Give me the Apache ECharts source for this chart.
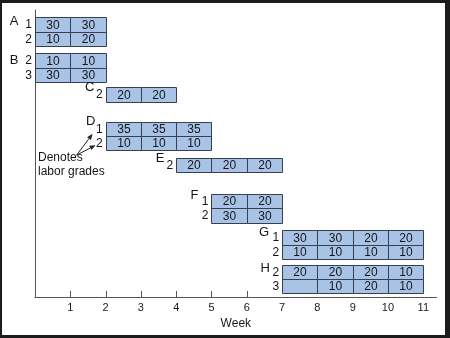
<!DOCTYPE html>
<html>
<head>
<meta charset="utf-8">
<script src="https://cdn.jsdelivr.net/npm/echarts@6/dist/echarts.min.js"></script>
<style>
  html, body { margin: 0; padding: 0; width: 450px; height: 338px; overflow: hidden; background: #1c1c1c; }
  #chart { position: absolute; left: 2px; top: 3px; width: 443px; height: 332px; background: #ffffff; }
</style>
</head>
<body>
<div id="chart"></div>
<script>
// ---- data ----
const weekTicks = [1, 2, 3, 4, 5, 6, 7, 8, 9, 10, 11];
const tasks = ['A', 'B', 'C', 'D', 'E', 'F', 'G', 'H'];
const taskStartWeek = [0, 0, 2, 2, 4, 5, 7, 7];
const laborGrades = [[1, 2], [2, 3], [2], [1, 2], [2], [1, 2], [1, 2], [2, 3]];
const workersA = [[30, 30], [10, 20]];
const workersB = [[10, 10], [30, 30]];
const workersC = [[20, 20]];
const workersD = [[35, 35, 35], [10, 10, 10]];
const workersE = [[20, 20, 20]];
const workersF = [[20, 20], [30, 30]];
const workersG = [[30, 30, 20, 20], [10, 10, 10, 10]];
const workersH = [[20, 20, 20, 10], [null, 10, 20, 10]];
const workersByTask = [workersA, workersB, workersC, workersD, workersE, workersF, workersG, workersH];
const markedWeekTicks = [1, 2, 3, 4, 5, 6];
const noteLines = ['Denotes', 'labor grades'];

// ---- layout (vertical units are row heights) ----
const gapAbove = [0.51, 0.51, 0.35, 1.39, 0.535, 1.5, 0.535, 0.37];
const gapBelow = 0.26;
// task letter position in px relative to the task's start on its first row
const letterOffset = [[-21, -3], [-21, 0], [-16, -7], [-15, -7], [-16, -7], [-17, -6], [-18, -5], [-17, -3]];
const FONT = '"Liberation Sans", Arial, Helvetica, sans-serif';

// row positions
const rowTops = [];
let cursor = 0;
tasks.forEach((t, i) => {
  cursor += gapAbove[i];
  const tops = [];
  laborGrades[i].forEach(() => { tops.push(cursor); cursor += 1; });
  rowTops.push(tops);
});
const yMax = cursor + gapBelow;

// cells: [startWeek, endWeek, rowTop, rowBottom]
const cellData = [];
const cellText = [];
tasks.forEach((t, i) => {
  workersByTask[i].forEach((row, r) => {
    row.forEach((v, k) => {
      const s = taskStartWeek[i] + k;
      cellData.push([s, s + 1, rowTops[i][r], rowTops[i][r] + 1]);
      cellText.push(v == null ? '' : String(v));
    });
  });
});

// grade labels: [startWeek, rowCenter]
const gradeData = [];
const gradeText = [];
tasks.forEach((t, i) => {
  laborGrades[i].forEach((g, r) => {
    gradeData.push([taskStartWeek[i], rowTops[i][r] + 0.5]);
    gradeText.push(String(g));
  });
});

// task letters: anchored on the first row
const letterData = tasks.map((t, i) => [taskStartWeek[i], rowTops[i][0] + 0.5]);

const crisp = v => Math.round(v) + 0.5;

const chart = echarts.init(document.getElementById('chart'), null, { renderer: 'canvas' });
const dIdx = tasks.indexOf('D');

chart.setOption({
  animation: false,
  grid: { left: 33, right: 8.3, top: 7, bottom: 38, containLabel: false, outerBoundsMode: 'none' },
  xAxis: {
    type: 'value', min: 0, max: 11.38, interval: 1,
    name: 'Week', nameLocation: 'middle', nameGap: 20,
    nameTextStyle: { fontFamily: FONT, fontSize: 12, color: '#1a1a1a' },
    axisLine: { show: true, onZero: false, lineStyle: { color: '#555', width: 1 } },
    axisTick: { show: false },
    splitLine: { show: false },
    axisLabel: {
      margin: 5, fontFamily: FONT, fontSize: 11, color: '#1a1a1a',
      formatter: v => (weekTicks.indexOf(v) >= 0 ? String(v) : '')
    }
  },
  yAxis: {
    type: 'value', min: 0, max: yMax, inverse: true,
    axisLine: { show: true, onZero: false, lineStyle: { color: '#555', width: 1 } },
    axisTick: { show: false }, axisLabel: { show: false }, splitLine: { show: false }
  },
  series: [
    {
      type: 'custom', name: 'cells', data: cellData,
      encode: { x: [0, 1], y: [2, 3] }, clip: false,
      renderItem(params, api) {
        const p0 = api.coord([api.value(0), api.value(2)]);
        const p1 = api.coord([api.value(1), api.value(3)]);
        const x0 = crisp(p0[0]), y0 = crisp(p0[1]);
        const x1 = crisp(p1[0]), y1 = crisp(p1[1]);
        return {
          type: 'group', children: [
            { type: 'rect', shape: { x: x0, y: y0, width: x1 - x0, height: y1 - y0 },
              style: { fill: '#a9c3e6', stroke: '#36404e', lineWidth: 1 } },
            { type: 'text', style: { text: cellText[params.dataIndex], x: (x0 + x1) / 2, y: (y0 + y1) / 2 + 0.5,
              align: 'center', verticalAlign: 'middle', font: '12px ' + FONT, fill: '#151515' } }
          ]
        };
      }
    },
    {
      type: 'custom', name: 'grades', data: gradeData,
      encode: { x: 0, y: 1 }, clip: false,
      renderItem(params, api) {
        const p = api.coord([api.value(0), api.value(1)]);
        return { type: 'text', style: { text: gradeText[params.dataIndex], x: p[0] - 3, y: p[1] + 0.5,
          align: 'right', verticalAlign: 'middle', font: '12px ' + FONT, fill: '#151515' } };
      }
    },
    {
      type: 'custom', name: 'tasks', data: letterData,
      encode: { x: 0, y: 1 }, clip: false,
      renderItem(params, api) {
        const p = api.coord([api.value(0), api.value(1)]);
        const off = letterOffset[params.dataIndex];
        return { type: 'text', style: { text: tasks[params.dataIndex], x: p[0] + off[0], y: p[1] + off[1],
          align: 'center', verticalAlign: 'middle', font: '13px ' + FONT, fill: '#151515' } };
      }
    },
    {
      type: 'custom', name: 'ticks', data: markedWeekTicks.map(w => [w, yMax]),
      encode: { x: 0, y: 1 }, clip: false,
      renderItem(params, api) {
        const p = api.coord([api.value(0), api.value(1)]);
        const x = crisp(p[0]);
        return { type: 'line', shape: { x1: x, y1: p[1], x2: x, y2: p[1] - 6 },
          style: { stroke: '#555', lineWidth: 1 } };
      }
    },
    {
      // note pointing at the labor-grade labels of task D
      type: 'custom', name: 'note',
      data: [[0, taskStartWeek[dIdx], rowTops[dIdx][0] + 0.5, rowTops[dIdx][1] + 0.5]],
      encode: { x: [0, 1], y: [2, 3] }, clip: false,
      renderItem(params, api) {
        const left = api.coord([api.value(0), api.value(3)]);
        const g1 = api.coord([api.value(1), api.value(2)]);
        const g2 = api.coord([api.value(1), api.value(3)]);
        const start = [g2[0] - 29, g2[1] + 12];
        const tips = [[g1[0] - 13, g1[1] + 5], [g2[0] - 10, g2[1] + 2]];
        const children = [];
        tips.forEach(t => {
          const dx = t[0] - start[0], dy = t[1] - start[1];
          const len = Math.sqrt(dx * dx + dy * dy);
          const ux = dx / len, uy = dy / len;
          const hl = 6, hw = 2.4;
          const bx = t[0] - ux * hl, by = t[1] - uy * hl;
          children.push({ type: 'line', shape: { x1: start[0], y1: start[1], x2: bx, y2: by },
            style: { stroke: '#222', lineWidth: 1 } });
          children.push({ type: 'polygon', shape: { points: [[t[0], t[1]], [bx - uy * hw, by + ux * hw], [bx + uy * hw, by - ux * hw]] },
            style: { fill: '#222' } });
        });
        noteLines.forEach((s, i) => {
          children.push({ type: 'text', style: { text: s, x: left[0] + 3, y: g2[1] + 15 + i * 14,
            align: 'left', verticalAlign: 'middle', font: '12px ' + FONT, fill: '#151515' } });
        });
        return { type: 'group', children };
      }
    }
  ]
});
</script>
</body>
</html>
